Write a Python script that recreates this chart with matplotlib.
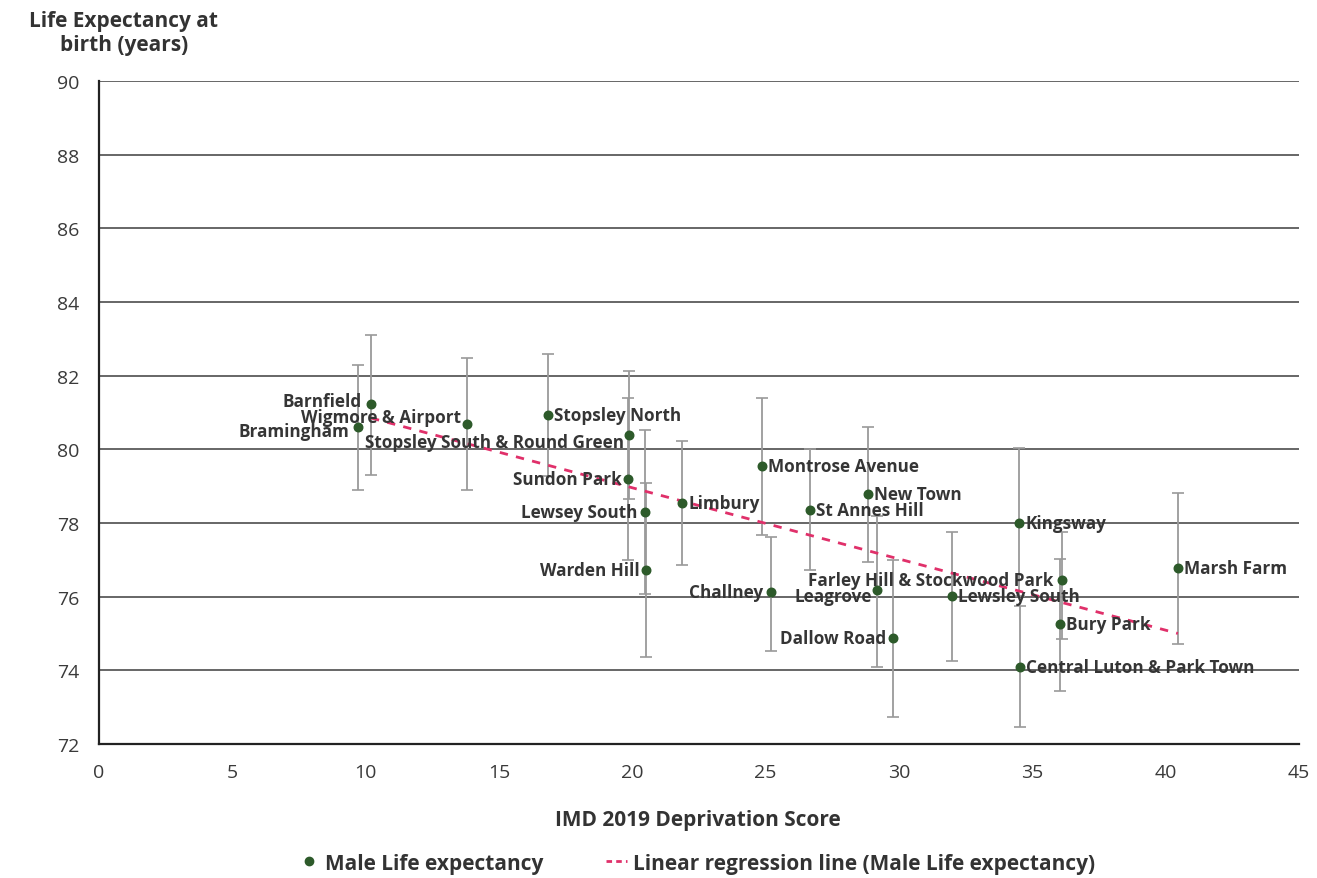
import numpy as np
import matplotlib
matplotlib.use("Agg")
import matplotlib.pyplot as plt
from matplotlib.lines import Line2D

plt.rcParams['font.family'] = ['Open Sans', 'DejaVu Sans']

# ward data
wards = ["Barnfield", "Bramingham", "Wigmore & Airport", "Stopsley North",
         "Stopsley South & Round Green", "Sundon Park", "Lewsey South", "Warden Hill",
         "Limbury", "Montrose Avenue", "Challney", "St Annes Hill", "New Town",
         "Leagrove", "Dallow Road", "Lewsley South", "Kingsway",
         "Central Luton & Park Town", "Farley Hill & Stockwood Park", "Bury Park",
         "Marsh Farm"]
imd_score = [10.2, 9.72, 13.79, 16.85, 19.87, 19.82, 20.47, 20.51, 21.88, 24.88, 25.2,
             26.68, 28.85, 29.19, 29.78, 31.98, 34.51, 34.55, 36.1, 36.03, 40.46]
life_exp = [81.23, 80.6, 80.69, 80.93, 80.4, 79.19, 78.29, 76.73, 78.54, 79.54, 76.12,
            78.36, 78.79, 76.19, 74.87, 76.03, 78.0, 74.1, 76.45, 75.26, 76.77]
ci_low = [79.31, 78.9, 78.9, 79.28, 78.66, 77.0, 76.07, 74.35, 76.86, 77.68, 74.53,
          76.73, 76.95, 74.08, 72.72, 74.26, 76.03, 72.45, 74.85, 73.45, 74.71]
ci_high = [83.1, 82.3, 82.48, 82.58, 82.12, 81.39, 80.53, 79.08, 80.22, 81.38, 77.61,
           80.01, 80.61, 78.2, 76.99, 77.75, 80.03, 75.75, 77.75, 77.02, 78.81]

reg_x = [10.2, 40.46]
reg_y = [80.85, 75.0]

y_ticks = [72, 74, 76, 78, 80, 82, 84, 86, 88, 90]
x_ticks = [0, 5, 10, 15, 20, 25, 30, 35, 40, 45]

# label placement (pixel offsets, alignment)
label_pos = {
    "Barnfield": (-9, 3, 'right'),
    "Bramingham": (-9, -4, 'right'),
    "Wigmore & Airport": (-6, 7, 'right'),
    "Stopsley South & Round Green": (-5, -7, 'right'),
    "Sundon Park": (-6, 0, 'right'),
    "Lewsey South": (-7, 0, 'right'),
    "Warden Hill": (-6, 0, 'right'),
    "Challney": (-8, 0, 'right'),
    "Leagrove": (-5, -6, 'right'),
    "Dallow Road": (-7, 0, 'right'),
    "Farley Hill & Stockwood Park": (-8, 0, 'right'),
}

fig = plt.figure(figsize=(13.17, 8.79), dpi=100)
ax = fig.add_axes([0.0752, 0.1525, 0.9111, 0.7542])

ax.set_xlim(0, 45)
ax.set_ylim(72, 90)
ax.set_yticks(y_ticks)
ax.set_xticks(x_ticks)
ax.yaxis.grid(True, color='#5a5a5a', lw=1.3)
ax.set_axisbelow(True)
ax.tick_params(length=0, labelsize=14, labelcolor='#3a3a3a')
ax.tick_params(axis='y', pad=14)
ax.tick_params(axis='x', pad=14)
for s in ['top', 'right']:
    ax.spines[s].set_visible(False)
for s in ['left', 'bottom']:
    ax.spines[s].set_color('#222222')
    ax.spines[s].set_linewidth(1.6)

x = np.array(imd_score)
y = np.array(life_exp)
yerr = np.array([y - np.array(ci_low), np.array(ci_high) - y])

ax.errorbar(x, y, yerr=yerr, fmt='none', ecolor='#9a9a9a', elinewidth=1.3,
            capsize=4, capthick=1.2, zorder=2)
ax.plot(reg_x, reg_y, linestyle=(0, (3, 3)), color='#e0306a', lw=2, zorder=3)
ax.scatter(x, y, s=38, color='#2d5a2a', zorder=4)

for name, xi, yi in zip(wards, imd_score, life_exp):
    dx, dy, ha = label_pos.get(name, (6, 0, 'left'))
    ax.annotate(name, (xi, yi), xytext=(dx, dy), textcoords='offset pixels',
                ha=ha, va='center', fontsize=12.3, fontweight='bold',
                color='#353535', zorder=5)

fig.text(0.094, 0.962, "Life Expectancy at\nbirth (years)", ha='center', va='center',
         fontsize=15, fontweight='bold', color='#333333', linespacing=1.2)
fig.text(0.53, 0.067, "IMD 2019 Deprivation Score", ha='center', va='center',
         fontsize=15, fontweight='bold', color='#333333')

handles = [
    Line2D([], [], marker='o', color='#2d5a2a', linestyle='none', markersize=6),
    Line2D([], [], color='#e0306a', linestyle=(0, (2, 1.5)), lw=2),
]
fig.legend(handles, ["Male Life expectancy", "Linear regression line (Male Life expectancy)"],
           loc='center', bbox_to_anchor=(0.529, 0.017), ncol=2, frameon=False,
           prop={'size': 15, 'weight': 'bold'}, labelcolor='#333333',
           handlelength=1.0, handletextpad=0.3, columnspacing=3.0)

fig.savefig("out.png", dpi=100)
